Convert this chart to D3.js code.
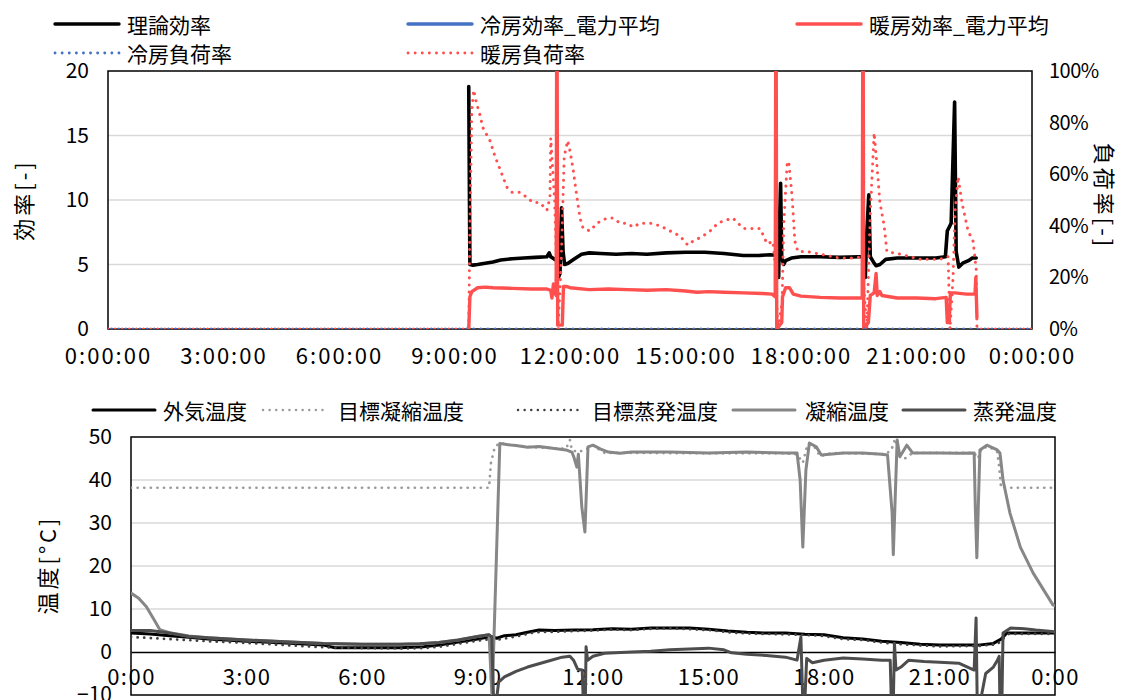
<!DOCTYPE html>
<html>
<head>
<meta charset="utf-8">
<script src="https://cdn.jsdelivr.net/npm/d3@7"></script>
<style>
  html, body { margin: 0; padding: 0; background: #fff; }
  svg { display: block; font-family: "Noto Sans CJK JP", "Noto Sans", sans-serif; }
</style>
</head>
<body>
<svg id="chart" width="1123" height="700"></svg>
<script>
// ---- Efficiency / load-ratio data (time in hours, value) ----
const theoEff = [
  [9.37,18.8],[9.40,5.0],[9.48,4.95],[9.6,5.0],[9.8,5.1],[10.0,5.2],[10.2,5.35],[10.5,5.45],[10.8,5.5],
  [11.1,5.55],[11.4,5.6],[11.46,5.9],[11.5,5.6],[11.6,5.4],[11.66,5.3],[11.7,4.0],[11.74,4.3],[11.78,9.4],
  [11.82,6.0],[11.86,5.0],[11.95,5.1],[12.1,5.4],[12.3,5.8],[12.5,5.9],[12.8,5.85],[13.2,5.8],[13.6,5.85],
  [14.0,5.8],[14.5,5.9],[15.0,5.95],[15.5,5.95],[16.0,5.85],[16.5,5.7],[16.9,5.7],[17.2,5.75],[17.38,5.7],
  [17.42,4.0],[17.44,8.0],[17.47,11.3],[17.5,5.5],[17.55,5.0],[17.6,5.3],[17.75,5.5],[18.0,5.6],[18.5,5.6],
  [19.0,5.55],[19.5,5.6],[19.64,5.6],[19.67,4.0],[19.71,7.5],[19.76,10.4],[19.8,5.6],[19.88,5.2],[19.95,4.9],
  [20.05,5.0],[20.2,5.4],[20.5,5.5],[21.0,5.5],[21.5,5.5],[21.75,5.6],[21.8,7.6],[21.9,8.2],[21.99,17.6],
  [22.03,6.0],[22.1,4.8],[22.2,5.1],[22.35,5.3],[22.45,5.5],[22.55,5.5]
];
const coolEff = [];
const heatEff = [
  [9.37,0],[9.40,2.5],[9.45,2.9],[9.6,3.2],[9.8,3.25],[10.0,3.2],[10.5,3.15],[11.0,3.1],[11.4,3.1],[11.5,3.0],
  [11.53,2.4],[11.57,3.5],[11.6,2.8],[11.64,2.6],[11.66,30],[11.68,0.3],[11.8,0.3],[11.83,3.3],[11.9,3.3],
  [12.0,3.2],[12.5,3.05],[13.0,3.1],[13.5,3.05],[14.0,3.0],[14.5,3.05],[15.0,2.95],[15.3,2.85],[15.6,2.9],
  [16.0,2.85],[16.5,2.8],[17.0,2.75],[17.25,2.7],[17.33,2.5],[17.35,30],[17.37,0],[17.5,0.5],[17.52,2.5],
  [17.6,3.2],[17.7,3.2],[17.8,2.7],[18.0,2.55],[18.5,2.45],[19.0,2.4],[19.5,2.4],[19.59,2.4],[19.61,30],
  [19.63,0],[19.75,0.5],[19.8,2.6],[19.9,2.8],[19.95,4.3],[19.98,2.6],[20.05,2.9],[20.1,2.6],[20.3,2.5],
  [20.5,2.4],[21.0,2.4],[21.5,2.35],[21.77,2.45],[21.8,0.5],[21.85,0.5],[21.88,2.8],[22.0,2.8],[22.3,2.7],
  [22.52,2.7],[22.54,4.0],[22.57,0.9]
];
const coolLoad = [[0,0],[24,0]];
const heatLoad = [
  [0,0],[9.37,0],[9.40,40],[9.45,85],[9.50,92.6],[9.57,87.6],[9.66,83],[9.74,78],[9.92,73],[10.05,67],[10.18,62],
  [10.36,55],[10.49,53],[10.70,53],[10.88,51],[11.04,49],[11.22,49],[11.40,46],[11.48,51],[11.50,74],[11.55,62],
  [11.6,50],[11.66,20],[11.69,0],[11.77,25],[11.85,67],[11.94,73],[12.0,69],[12.08,62],[12.18,51],[12.26,43],
  [12.34,39],[12.52,38],[12.70,41],[12.96,43],[13.12,43],[13.30,41],[13.48,41],[13.64,39.5],[13.82,41],[14.08,41],
  [14.34,40],[14.60,38],[14.86,36],[15.06,32.5],[15.19,34],[15.45,36],[15.64,38],[15.84,41],[16.0,42],[16.23,43],
  [16.5,39],[16.94,39],[17.12,33],[17.27,34],[17.33,25],[17.40,0],[17.51,10],[17.55,40],[17.64,64],[17.68,65],
  [17.77,51],[17.84,34],[17.92,30],[18.16,30],[18.5,29],[19.0,27.5],[19.35,27.5],[19.59,28],[19.66,10],[19.71,0],
  [19.8,45],[19.90,76],[19.98,62],[20.05,49],[20.16,40],[20.23,30],[20.57,29],[21.1,27],[21.6,27],[21.82,28],
  [21.87,0],[21.95,20],[22.0,45],[22.08,59],[22.18,49],[22.34,38],[22.47,34],[22.55,23],[22.57,0],[24,0]
];

// ---- Temperature data (time in hours, °C) ----
const outdoorTemp = [
  [0,4.4],[0.5,4.2],[1.0,3.8],[1.5,3.4],[2.0,3.0],[3.0,2.5],[4.0,2.1],[5.0,1.6],[5.3,1.0],[6.0,1.0],[7.0,1.0],
  [7.6,1.2],[8.0,1.6],[8.5,2.3],[9.0,3.0],[9.35,3.6],[9.5,3.2],[9.7,3.8],[10.0,4.0],[10.3,4.6],[10.6,5.1],
  [11.0,5.0],[11.5,5.1],[12.0,5.2],[12.5,5.4],[13.0,5.3],[13.5,5.6],[14.0,5.6],[14.5,5.6],[15.0,5.3],[15.5,4.9],
  [16.0,4.6],[16.5,4.4],[17.0,4.4],[17.5,4.1],[18.0,4.0],[18.5,3.3],[19.0,3.0],[19.5,2.5],[20.0,2.2],[20.5,1.8],
  [21.0,1.6],[21.5,1.6],[22.0,1.6],[22.4,2.0],[22.6,3.0],[22.75,4.4],[23.0,4.4],[24,4.4]
];
const targetCondTemp = [
  [0,38.2],[9.3,38.2],[9.35,44],[9.45,47.7],[9.58,48.6],[10,48.0],[10.5,47.6],[11.0,47.4],[11.3,47.3],[11.4,49.3],
  [11.45,47],[11.6,46.5],[11.8,47],[12.0,48.0],[12.3,46.3],[13,46.3],[15,46.2],[17,46.2],[17.3,46.0],[17.45,44],
  [17.55,47.5],[17.7,48.5],[17.9,45.5],[18.2,46.3],[19.6,46.0],[19.75,47],[19.85,49.6],[19.95,46],[20.1,45],
  [20.3,46.3],[21.9,46.3],[22.0,45],[22.1,47.5],[22.3,47.7],[22.5,46.5],[22.55,43],[22.6,38.2],[24,38.2]
];
const targetEvapTemp = [
  [0,3.5],[1,3.0],[2,2.5],[3,2.1],[4,1.6],[5,1.1],[6,0.9],[7,0.8],[7.6,0.9],[8,1.2],[8.5,1.9],[9,2.6],[9.35,3.0],
  [9.5,2.8],[10,3.6],[10.5,4.6],[11,4.7],[12,5.0],[12.5,5.2],[13,5.1],[13.5,5.4],[14,5.5],[15,5.1],[15.5,4.6],
  [16,4.3],[17,4.1],[17.5,4.0],[18,3.7],[18.5,3.0],[19,2.8],[19.5,2.2],[20,1.8],[21,1.3],[22,1.4],[22.5,1.8],
  [22.7,3.5],[22.8,4.2],[24,4.2]
];
const condTemp = [
  [0,13.7],[0.2,12.5],[0.4,10.5],[0.6,7.5],[0.75,5.2],[1.0,4.5],[1.5,3.7],[2.0,3.3],[3.0,2.8],[4.0,2.4],[5.0,2.0],
  [6.0,1.8],[7.0,1.8],[7.5,1.9],[8.0,2.2],[8.5,2.8],[9.0,3.6],[9.3,4.0],[9.38,-11],[9.58,48.5],[9.8,48.2],
  [10.0,48.0],[10.3,47.6],[10.6,47.8],[11.0,47.3],[11.3,47.0],[11.45,46.5],[11.5,45.4],[11.58,43],[11.62,46],
  [11.71,33.7],[11.79,27.9],[11.87,47.7],[12.0,48.1],[12.2,47.2],[12.4,46.5],[12.7,46.2],[13.0,46.5],[14.0,46.5],
  [15.0,46.3],[16.0,46.5],[17.0,46.3],[17.3,46.3],[17.38,40],[17.45,24.4],[17.53,42.3],[17.62,48.6],[17.8,47.7],
  [17.93,45.8],[18.5,46.3],[19.0,46.3],[19.5,46.0],[19.65,45.8],[19.77,32.3],[19.8,22.6],[19.9,49.3],[19.97,45.4],
  [20.15,48.1],[20.3,46.3],[21.0,46.3],[21.5,46.2],[21.9,46.3],[21.93,33.7],[21.97,21.9],[22.05,47],[22.23,48.1],
  [22.5,47],[22.57,46.3],[22.65,40],[22.83,32.3],[23.1,24.4],[23.43,18.4],[23.95,10.9],[24,10.8]
];
const evapTemp = [
  [0,5.0],[0.5,5.0],[1.0,4.4],[1.5,3.6],[2.0,3.3],[3.0,2.8],[4.0,2.4],[5.0,2.0],[6.0,1.8],[7.0,1.8],[7.5,1.9],
  [8.0,2.2],[8.5,2.8],[9.0,3.6],[9.3,4.0],[9.37,3.5],[9.42,-12],[9.48,-12],[9.55,-7],[9.7,-5.8],[10.0,-4.5],
  [10.3,-3.5],[10.8,-2.2],[11.2,-1.2],[11.4,-1.0],[11.5,-2.0],[11.6,-4.0],[11.72,-4.2],[11.75,-12],[11.8,-12],
  [11.82,1.2],[11.86,-1.9],[12.0,-1.0],[12.3,-0.3],[13.0,0.0],[13.5,0.2],[14.0,0.5],[14.5,0.7],[15.0,0.9],
  [15.4,0.5],[15.6,-0.2],[16.0,-0.5],[16.5,-0.8],[17.0,-1.2],[17.3,-1.9],[17.4,3.5],[17.45,-12],[17.5,-12],
  [17.55,-1.5],[17.7,-2.5],[18.0,-1.9],[18.5,-1.4],[19.0,-1.6],[19.5,-1.9],[19.72,-1.9],[19.75,-12],[19.8,-12],
  [19.83,2.0],[19.87,-4.2],[20.0,-3.5],[20.2,-1.9],[20.6,-2.2],[21.0,-2.4],[21.5,-2.6],[21.9,-4.2],[21.95,7.9],
  [21.98,-12],[22.05,-12],[22.2,-5],[22.4,-3.5],[22.5,-2.0],[22.55,-1.0],[22.57,-12],[22.62,-12],[22.65,4.4],
  [22.85,5.6],[23.2,5.4],[23.5,5.1],[24,4.7]
];

// ---- Axis ticks ----
const hourTicks = [0,3,6,9,12,15,18,21,24];
const effTicks = [0,5,10,15,20];
const loadTicks = [0,20,40,60,80,100];
const tempTicks = [-10,0,10,20,30,40,50];

const svg = d3.select("#chart");
const FS = 21;
const FONT = "'Noto Sans CJK JP', sans-serif";

function styleTicks(g, size, spacing) {
  g.selectAll("text").attr("font-size", size).attr("fill", "#000")
    .attr("font-family", FONT).attr("letter-spacing", spacing || 0);
}
function axisTitle(x, y, rot, label) {
  svg.append("text").attr("transform", `translate(${x},${y}) rotate(${rot})`)
    .attr("text-anchor", "middle").attr("dominant-baseline", "central")
    .attr("font-size", 22).attr("letter-spacing", 3).text(label);
}

// ================= Top chart: efficiency & load ratio =================
const T = {l:108, r:1032, t:71, b:329};
const xT = d3.scaleLinear().domain([0,24]).range([T.l, T.r]);
const yEff = d3.scaleLinear().domain([0,20]).range([T.b, T.t]);
const yLoad = d3.scaleLinear().domain([0,100]).range([T.b, T.t]);

svg.append("clipPath").attr("id","clipTop").append("rect")
  .attr("x",T.l).attr("y",T.t).attr("width",T.r-T.l).attr("height",T.b-T.t);

// gridlines
svg.append("g").selectAll("line").data(effTicks.filter(d=>d>0 && d<20)).join("line")
  .attr("x1",T.l).attr("x2",T.r).attr("y1",d=>yEff(d)).attr("y2",d=>yEff(d))
  .attr("stroke","#d9d9d9").attr("stroke-width",1.5);

// plot frame
svg.append("rect").attr("x",T.l).attr("y",T.t).attr("width",T.r-T.l).attr("height",T.b-T.t)
  .attr("fill","none").attr("stroke","#000").attr("stroke-width",1.5);

// axes (labels only)
const axLeftT = svg.append("g").attr("transform",`translate(${T.l},0)`)
  .call(d3.axisLeft(yEff).tickValues(effTicks).tickSize(0).tickPadding(19).tickFormat(d3.format("d")));
const axRightT = svg.append("g").attr("transform",`translate(${T.r},0)`)
  .call(d3.axisRight(yLoad).tickValues(loadTicks).tickSize(0).tickPadding(17).tickFormat(d=>d+"%"));
const axBottomT = svg.append("g").attr("transform",`translate(0,${T.b})`)
  .call(d3.axisBottom(xT).tickValues(hourTicks).tickSize(0).tickPadding(19).tickFormat(d=>(d%24)+":00:00"));
[axLeftT, axRightT, axBottomT].forEach(g=>g.select(".domain").remove());
styleTicks(axLeftT, FS);
styleTicks(axRightT, 20, -0.5);
styleTicks(axBottomT, 22, 2);

const lineT = (y)=> d3.line().x(d=>xT(d[0])).y(d=>y(d[1]));
const gT = svg.append("g").attr("clip-path","url(#clipTop)");
const seriesTop = [
  {name:"理論効率", data:theoEff, y:yEff, color:"#000000", dash:null, w:3.6},
  {name:"冷房効率_電力平均", data:coolEff, y:yEff, color:"#4472C4", dash:null, w:3.4},
  {name:"暖房効率_電力平均", data:heatEff, y:yEff, color:"#FF5050", dash:null, w:3.4},
  {name:"冷房負荷率", data:coolLoad, y:yLoad, color:"#4472C4", dash:"0.1 7", w:3, off:3.5},
  {name:"暖房負荷率", data:heatLoad, y:yLoad, color:"#FF5050", dash:"0.1 7", w:3, off:0}
];
seriesTop.forEach(s=>{
  if (!s.data.length) return;
  gT.append("path").datum(s.data).attr("d", lineT(s.y))
    .attr("fill","none").attr("stroke",s.color).attr("stroke-width",s.w)
    .attr("stroke-linejoin","round").attr("stroke-linecap","round")
    .attr("stroke-dasharray",s.dash).attr("stroke-dashoffset",s.off||0);
});

// axis titles
axisTitle(22, 200, -90, "効率[-]");
axisTitle(1106, 196, 90, "負荷率[-]");

// legend (top)
const legTop = [
  {s:seriesTop[0], x:55, y:24}, {s:seriesTop[1], x:408, y:24}, {s:seriesTop[2], x:797, y:24},
  {s:seriesTop[3], x:55, y:53}, {s:seriesTop[4], x:408, y:53}
];
legTop.forEach(({s,x,y})=>{
  svg.append("line").attr("x1",x).attr("x2",x+64).attr("y1",y).attr("y2",y)
    .attr("stroke",s.color).attr("stroke-width",s.dash?2.8:3.4).attr("stroke-linecap","round")
    .attr("stroke-dasharray",s.dash);
  svg.append("text").attr("x",x+72).attr("y",y).attr("dominant-baseline","central")
    .attr("font-size",FS).text(s.name);
});

// ================= Bottom chart: temperatures =================
const B = {l:131, r:1055, t:437, b:695};
const xB = d3.scaleLinear().domain([0,24]).range([B.l, B.r]);
const yT = d3.scaleLinear().domain([-10,50]).range([B.b, B.t]);

svg.append("clipPath").attr("id","clipBot").append("rect")
  .attr("x",B.l).attr("y",B.t).attr("width",B.r-B.l).attr("height",B.b-B.t);

svg.append("g").selectAll("line").data(tempTicks.filter(d=>d>0 && d<50)).join("line")
  .attr("x1",B.l).attr("x2",B.r).attr("y1",d=>yT(d)).attr("y2",d=>yT(d))
  .attr("stroke","#d9d9d9").attr("stroke-width",1.5);

svg.append("rect").attr("x",B.l).attr("y",B.t).attr("width",B.r-B.l).attr("height",B.b-B.t)
  .attr("fill","none").attr("stroke","#000").attr("stroke-width",1.5);

const axLeftB = svg.append("g").attr("transform",`translate(${B.l},0)`)
  .call(d3.axisLeft(yT).tickValues(tempTicks).tickSize(0).tickPadding(19));
const axBottomB = svg.append("g").attr("transform",`translate(0,${yT(0)})`)
  .call(d3.axisBottom(xB).tickValues(hourTicks).tickSize(0).tickPadding(17).tickFormat(d=>(d%24)+":00"));
axBottomB.select(".domain").attr("stroke","#000").attr("stroke-width",1.5);
axLeftB.select(".domain").remove();
styleTicks(axLeftB, FS);
styleTicks(axBottomB, 22, 1.5);

const lineB = d3.line().x(d=>xB(d[0])).y(d=>yT(d[1]));
const gB = svg.append("g").attr("clip-path","url(#clipBot)");
const seriesBot = [
  {name:"外気温度", data:outdoorTemp, color:"#000000", dash:null, w:3},
  {name:"目標凝縮温度", data:targetCondTemp, color:"#9A9A9A", dash:"0.1 6.5", w:2.7},
  {name:"目標蒸発温度", data:targetEvapTemp, color:"#404040", dash:"0.1 6.5", w:2.7},
  {name:"凝縮温度", data:condTemp, color:"#878787", dash:null, w:3},
  {name:"蒸発温度", data:evapTemp, color:"#4D4D4D", dash:null, w:3}
];
seriesBot.forEach(s=>{
  gB.append("path").datum(s.data).attr("d", lineB)
    .attr("fill","none").attr("stroke",s.color).attr("stroke-width",s.w)
    .attr("stroke-linejoin","round").attr("stroke-linecap","round")
    .attr("stroke-dasharray",s.dash);
});

axisTitle(46, 565, -90, "温度[°C]");

// legend (bottom)
const legBot = [
  {s:seriesBot[0], x:93, tx:163}, {s:seriesBot[1], x:263, tx:338}, {s:seriesBot[2], x:518, tx:592},
  {s:seriesBot[3], x:733, tx:805}, {s:seriesBot[4], x:903, tx:973}
];
legBot.forEach(({s,x,tx})=>{
  const y = 410;
  svg.append("line").attr("x1",x).attr("x2",x+62).attr("y1",y).attr("y2",y)
    .attr("stroke",s.color).attr("stroke-width",s.dash?2.4:3).attr("stroke-linecap","round")
    .attr("stroke-dasharray",s.dash);
  svg.append("text").attr("x",tx).attr("y",y).attr("dominant-baseline","central")
    .attr("font-size",FS).text(s.name);
});
</script>
</body>
</html>
